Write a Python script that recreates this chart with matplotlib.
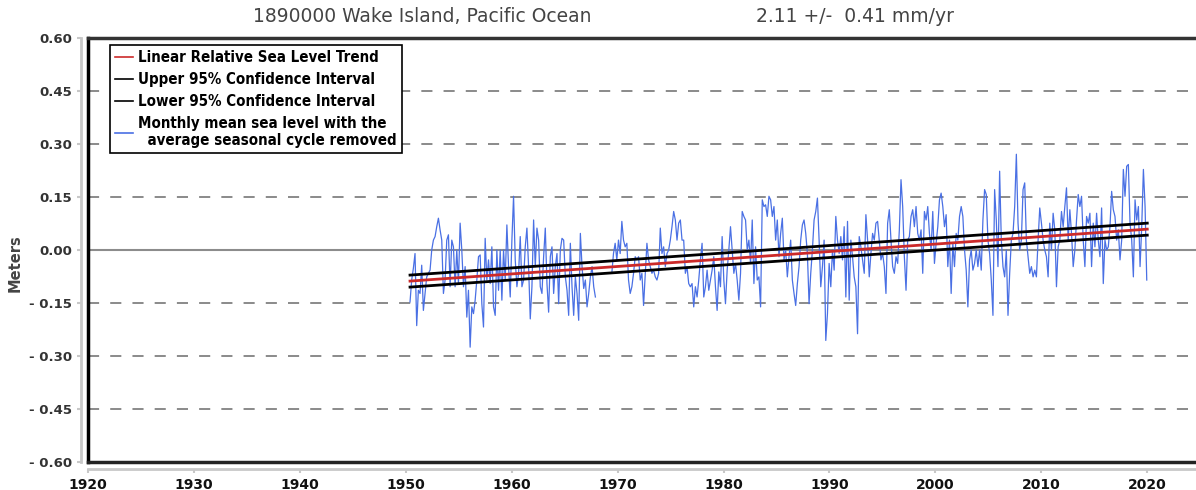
import numpy as np
import matplotlib
matplotlib.use("Agg")
import matplotlib.pyplot as plt
from matplotlib.ticker import FuncFormatter

plt.rcParams['lines.scale_dashes'] = False

# station info
title_left = '1890000 Wake Island, Pacific Ocean'
title_right = '2.11 +/-  0.41 mm/yr'

# monthly mean sea level (m), seasonal cycle removed
seg1_years = (1950.4, 1967.9)
seg1_msl = [
    -0.147, -0.085, -0.052, -0.010, -0.214, -0.114, -0.123, -0.043, -0.171, -0.123,
    -0.076, -0.066, -0.057, 0.000, 0.028, 0.038, 0.066, 0.090, 0.057, 0.028,
    -0.123, -0.085, 0.028, 0.043, -0.104, 0.028, 0.009, -0.104, 0.000, -0.095,
    0.076, 0.000, -0.104, -0.047, -0.190, -0.114, -0.275, -0.161, -0.180, -0.142,
    -0.085, -0.019, -0.014, -0.152, -0.218, 0.033, -0.085, -0.028, -0.095, 0.009,
    -0.161, -0.185, 0.000, -0.114, 0.000, -0.142, 0.000, -0.085, 0.071, -0.047,
    -0.133, 0.028, 0.152, -0.028, -0.104, -0.066, 0.038, -0.104, -0.085, 0.009,
    0.062, -0.047, -0.195, -0.104, 0.085, -0.047, 0.062, 0.028, -0.104, -0.123,
    -0.019, 0.062, -0.095, -0.176, -0.019, 0.009, -0.123, -0.047, -0.010, -0.152,
    0.000, 0.033, 0.028, -0.076, -0.114, -0.185, 0.019, -0.104, -0.185, -0.076,
    -0.123, -0.199, 0.047, -0.047, -0.109, -0.085, -0.161, -0.123, -0.076, -0.047,
    -0.104, -0.133,
]

seg2_years = (1969.45, 2019.95)
seg2_msl = [
    # 1969 - 1984
    -0.066, -0.010, 0.019, -0.028, 0.028, -0.010, 0.081, 0.028, 0.009, 0.019,
    -0.085, -0.123, -0.104, -0.066, -0.019, -0.028, -0.019, -0.085, -0.066, -0.157,
    -0.066, 0.019, -0.028, -0.047, -0.066, -0.057, -0.076, -0.085, -0.066, 0.062,
    -0.010, 0.009, -0.047, -0.010, 0.000, 0.028, 0.066, 0.109, 0.085, 0.028,
    0.076, 0.085, 0.028, 0.028, -0.066, -0.047, -0.095, -0.104, -0.095, -0.161,
    -0.104, -0.133, -0.085, -0.028, 0.019, -0.133, -0.104, -0.057, -0.114, -0.085,
    -0.057, -0.019, -0.104, -0.171, -0.062, -0.104, 0.038, -0.085, -0.152, -0.057,
    0.000, 0.066, 0.000, -0.066, -0.038, -0.085, -0.142, -0.066, 0.109, 0.095,
    0.085, 0.000, 0.028, -0.038, 0.085, -0.095, 0.009, -0.085, -0.076, -0.161,
    0.142, 0.123, 0.128, 0.095, 0.152, 0.142,
    # 1984 - 2020
    0.095, 0.123, 0.028, 0.085, -0.019, 0.047, 0.090, -0.028, 0.000, -0.076,
    -0.019, 0.028, -0.085, -0.123, -0.157, -0.095, -0.047, 0.028, 0.071, 0.085,
    0.047, -0.010, -0.152, -0.066, 0.000, 0.085, 0.109, 0.147, 0.028, -0.104,
    -0.047, 0.028, -0.256, -0.180, -0.038, -0.104, 0.000, -0.057, 0.095, 0.028,
    -0.010, 0.038, -0.028, 0.066, -0.133, 0.081, -0.142, 0.028, -0.019, -0.076,
    -0.104, -0.237, 0.038, 0.009, -0.028, -0.066, 0.100, 0.028, -0.076, -0.010,
    0.047, 0.028, 0.076, 0.081, 0.028, -0.028, -0.010, -0.047, -0.123, 0.076,
    0.114, 0.028, -0.047, -0.066, -0.019, -0.038, 0.057, 0.199, 0.123, -0.019,
    -0.114, 0.028, 0.038, 0.095, 0.114, 0.066, 0.123, 0.047, 0.028, 0.057,
    -0.066, 0.109, 0.085, 0.123, 0.047, 0.000, 0.109, -0.038, 0.019, 0.066,
    0.142, 0.161, 0.123, 0.066, 0.100, -0.047, 0.028, -0.123, 0.019, -0.047,
    0.047, 0.028, 0.095, 0.123, 0.095, 0.000, -0.057, -0.161, -0.028, 0.000,
    -0.057, -0.038, 0.000, -0.047, 0.000, -0.057, 0.085, 0.171, 0.157, 0.028,
    -0.010, -0.085, -0.185, 0.171, 0.085, -0.047, 0.223, 0.028, -0.047, -0.076,
    0.000, -0.185, -0.066, 0.028, 0.047, 0.123, 0.271, 0.076, 0.000, 0.028,
    0.171, 0.190, 0.028, -0.019, -0.066, -0.047, -0.076, -0.057, -0.076, 0.028,
    0.119, 0.076, 0.028, 0.000, -0.019, -0.076, 0.076, 0.000, 0.104, 0.057,
    -0.104, 0.009, 0.028, 0.109, 0.066, 0.123, 0.176, 0.028, 0.114, 0.047,
    -0.047, 0.000, 0.085, 0.157, 0.123, 0.152, 0.028, -0.047, 0.095, 0.076,
    0.104, -0.047, 0.076, 0.009, 0.104, 0.028, -0.019, 0.119, -0.095, 0.028,
    0.000, 0.009, 0.066, 0.166, 0.114, 0.095, 0.028, 0.057, -0.028, 0.028,
    0.228, 0.152, 0.237, 0.242, 0.076, 0.028, -0.076, 0.142, 0.085, 0.123,
    -0.047, 0.066, 0.228, 0.123, -0.085,
]

# linear trend and its 95% confidence interval (m)
trend_years = [1950.4, 2020.0]
trend = [-0.088, 0.059]
upper_ci = [-0.071, 0.076]
lower_ci = [-0.105, 0.042]

y_ticks = [-0.60, -0.45, -0.30, -0.15, 0.00, 0.15, 0.30, 0.45, 0.60]
x_ticks = [1920, 1930, 1940, 1950, 1960, 1970, 1980, 1990, 2000, 2010, 2020]

fig = plt.figure(figsize=(11.96, 4.90), dpi=100)
ax = fig.add_axes([88 / 1196, 28 / 490, 1108 / 1196, 424 / 490])
ax.set_xlim(1920, 2024.6)
ax.set_ylim(-0.60, 0.60)

# grid: dashed lines with a solid zero line
for yv in y_ticks[1:-1]:
    if yv == 0:
        ax.axhline(yv, color='#8c8c8c', lw=1.5, zorder=1)
    else:
        ax.axhline(yv, color='#8a8a8a', lw=1.4, linestyle=(0, (8, 8)), zorder=1)

# data
t1 = np.linspace(seg1_years[0], seg1_years[1], len(seg1_msl))
t2 = np.linspace(seg2_years[0], seg2_years[1], len(seg2_msl))
ax.plot(t1, seg1_msl, color='#4a70e4', lw=0.9, zorder=2,
        label='Monthly mean sea level with the\n  average seasonal cycle removed')
ax.plot(t2, seg2_msl, color='#4a70e4', lw=0.9, zorder=2)

ax.plot(trend_years, trend, color='#cc2a2a', lw=2, zorder=4,
        label='Linear Relative Sea Level Trend')
ax.plot(trend_years, upper_ci, color='black', lw=2, zorder=3,
        label='Upper 95% Confidence Interval')
ax.plot(trend_years, lower_ci, color='black', lw=2, zorder=3,
        label='Lower 95% Confidence Interval')

# plot frame in black, offset axis lines in light gray
ax.axvline(1920, color='black', lw=2.5, zorder=5, clip_on=False)
ax.axhline(-0.60, color='#222222', lw=2.5, zorder=5, clip_on=False)
ax.axhline(0.60, color='#333333', lw=2.5, zorder=5, clip_on=False)
for side in ['top', 'right']:
    ax.spines[side].set_visible(False)
for side in ['left', 'bottom']:
    ax.spines[side].set_color('#c8c8c8')
    ax.spines[side].set_linewidth(2)
    ax.spines[side].set_position(('outward', 5))

ax.set_yticks(y_ticks)
ax.set_xticks(x_ticks)
ax.yaxis.set_major_formatter(FuncFormatter(
    lambda v, p: f'{v:.2f}' if v >= -0.001 else f'- {abs(v):.2f}'))
ax.tick_params(axis='both', colors='#c8c8c8', length=3, width=1.5,
               labelcolor='#333333', labelsize=9.5)
ax.tick_params(axis='x', labelcolor='#111111', labelsize=10)
for lab in ax.get_xticklabels() + ax.get_yticklabels():
    lab.set_fontweight('bold')

ax.set_ylabel('Meters', fontsize=10.5, fontweight='bold', color='#444444')
ax.yaxis.set_label_coords(-0.059, 0.47)

fig.text(422 / 1196, 1 - 17 / 490, title_left, ha='center', va='center',
         fontsize=13.5, color='#444444')
fig.text(855 / 1196, 1 - 17 / 490, title_right, ha='center', va='center',
         fontsize=13.5, color='#444444')

handles, labels = ax.get_legend_handles_labels()
order = [1, 2, 3, 0]
leg = ax.legend([handles[i] for i in order], [labels[i] for i in order],
                loc='upper left', bbox_to_anchor=(0.0199, 0.983), borderaxespad=0,
                prop={'family': 'DejaVu Sans', 'stretch': 'condensed',
                      'weight': 'bold', 'size': 10.8},
                handlelength=1.2, handletextpad=0.3, labelspacing=0.45,
                fancybox=False, framealpha=1, edgecolor='black',
                borderpad=0.35)
leg.get_frame().set_linewidth(1.2)
leg.set_zorder(10)
for line in leg.get_lines():
    line.set_linewidth(1.2)

fig.savefig('out.png', dpi=100)
